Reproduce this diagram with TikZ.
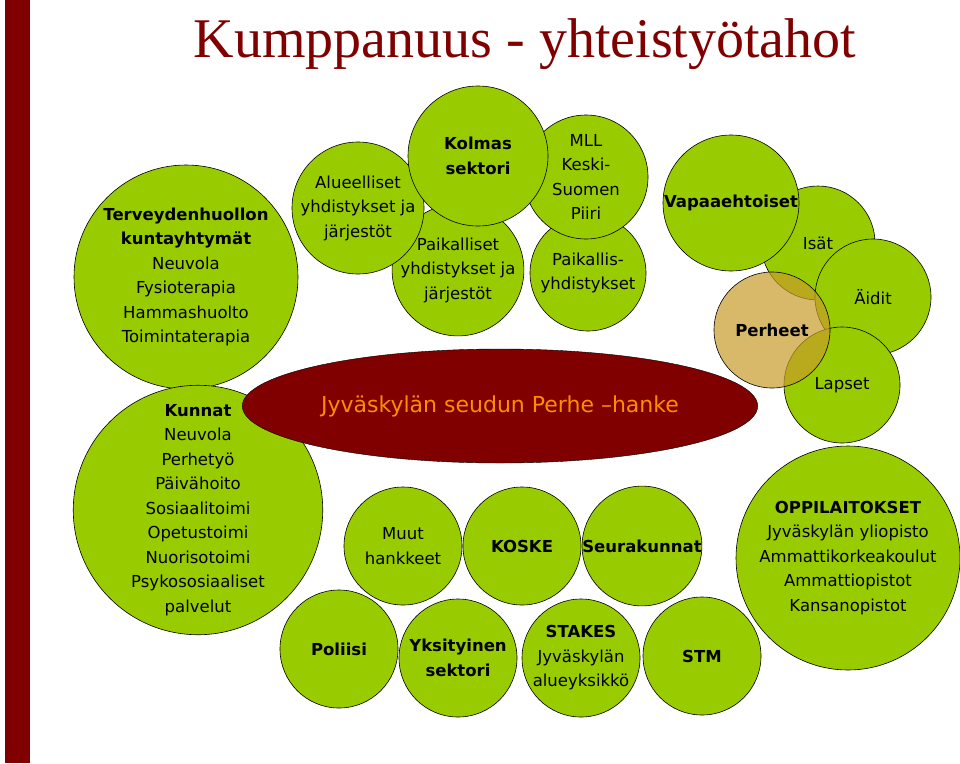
\documentclass[tikz,border=0pt]{standalone}
\usepackage{fontspec}
\setmainfont{DejaVu Sans}
\newfontfamily\otsikko{Liberation Serif}
\usetikzlibrary{positioning, shapes.geometric}
\definecolor{vihrea}{HTML}{99CC00}
\definecolor{punainen}{HTML}{800000}
\definecolor{ruskea}{HTML}{C89B2A}
\tikzset {
    x=1pt, y=-1pt,
    pallo/.style={circle, draw=black, semithick, fill=vihrea, inner sep=0pt, align=center,
        font=\fontsize{16.5}{24.5}\selectfont, minimum size=#1},
    pallo/.default=118pt
}

\begin{document}
\begin{tikzpicture}
\useasboundingbox (0,0) rectangle (960,763);
\fill[punainen] (5,0) rectangle (30,763);
\node[text=punainen, font=\otsikko\fontsize{56}{56}\selectfont] (otsikko) at (525,44) {Kumppanuus - yhteistyötahot};

\node[pallo=224pt] (terveys) at (186,277) {\textbf{Terveydenhuollon}\\\textbf{kuntayhtymät}\\Neuvola\\Fysioterapia\\Hammashuolto\\Toimintaterapia};
\node[pallo=240pt] (kunnat) at (198,510) {\textbf{Kunnat}\\Neuvola\\Perhetyö\\Päivähoito\\Sosiaalitoimi\\Opetustoimi\\Nuorisotoimi\\Psykososiaaliset\\palvelut};

\node[pallo=124pt] (paikalliset) at (458,270) {Paikalliset\\yhdistykset ja\\järjestöt};
\node[pallo=132pt] (alueelliset) at (358,208) {Alueelliset\\yhdistykset ja\\järjestöt};
\node[pallo=116pt] (paikallis) at (588,273) {Paikallis-\\yhdistykset};
\node[pallo=124pt] (mll) at (586,177) {MLL\\Keski-\\Suomen\\Piiri};
\node[pallo=140pt] (kolmas) at (478,156) {\textbf{Kolmas}\\\textbf{sektori}};

\node[pallo=114pt] (isat) at (818,243) {Isät};
\node[pallo=136pt] (vapaa) at (731,203) {\textbf{Vapaaehtoiset}};
\node[pallo=116pt] (aidit) at (873,297) {Äidit};
\node[pallo=116pt] (lapset) at (842,385) {Lapset};
\node[pallo=116pt, fill=ruskea, fill opacity=0.7, text opacity=1] (perheet) at (772,330) {\textbf{Perheet}};

\node[ellipse, draw=black, fill=punainen, minimum width=380pt, minimum height=114pt, text=orange!90!yellow,
    font=\fontsize{22}{24}\selectfont] (hanke) at (500,406) {Jyväskylän seudun Perhe –hanke};

\node[pallo] (muut) at (403,546) {Muut\\hankkeet};
\node[pallo] (koske) at (522,546) {\textbf{KOSKE}};
\node[pallo] (seura) at (642,546) {\textbf{Seurakunnat}};
\node[pallo=224pt] (oppi) at (848,558) {\textbf{OPPILAITOKSET}\\Jyväskylän yliopisto\\Ammattikorkeakoulut\\Ammattiopistot\\Kansanopistot};

\node[pallo] (poliisi) at (339,649) {\textbf{Poliisi}};
\node[pallo] (yksityinen) at (458,658) {\textbf{Yksityinen}\\\textbf{sektori}};
\node[pallo] (stakes) at (581,658) {\textbf{STAKES}\\Jyväskylän\\alueyksikkö};
\node[pallo] (stm) at (702,656) {\textbf{STM}};
\end{tikzpicture}
\end{document}
